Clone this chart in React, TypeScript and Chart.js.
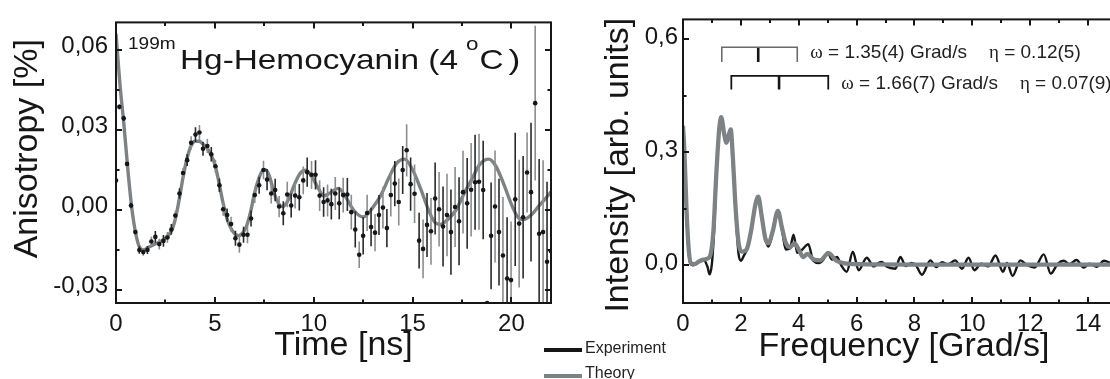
import React, { useEffect, useRef } from "react";
import { Chart, registerables } from "chart.js";

Chart.register(...registerables);

const FONT = '"Liberation Sans", Arial, Helvetica, sans-serif';
const SERIF = '"Liberation Serif", "Times New Roman", serif';
const INK = "#161616";
const GRAY = "#7d8285";

// ---------- Left panel: anisotropy vs time ----------
const TIME_EXP = [0.0, 0.17, 0.39, 0.56, 0.76, 0.98, 1.18, 1.38, 1.59, 1.79, 1.99, 2.19, 2.4, 2.6, 2.8, 3.0, 3.21, 3.39, 3.6, 3.8, 4.02, 4.22, 4.4, 4.62, 4.82, 5.03, 5.23, 5.42, 5.62, 5.82, 6.04, 6.24, 6.45, 6.65, 6.83, 7.02, 7.24, 7.46, 7.64, 7.85, 8.05, 8.25, 8.46, 8.66, 8.86, 9.06, 9.27, 9.47, 9.67, 9.89, 10.09, 10.3, 10.5, 10.7, 10.89, 11.09, 11.29, 11.49, 11.7, 11.9, 12.1, 12.3, 12.5, 12.7, 12.9, 13.1, 13.3, 13.5, 13.7, 13.9, 14.1, 14.3, 14.5, 14.7, 14.9, 15.1, 15.33, 15.53, 15.73, 15.93, 16.14, 16.34, 16.54, 16.74, 16.94, 17.15, 17.35, 17.55, 17.76, 17.96, 18.16, 18.36, 18.57, 18.77, 18.97, 19.17, 19.37, 19.57, 19.78, 19.98, 20.19, 20.39, 20.59, 20.79, 20.99, 21.2, 21.4, 21.6, 21.8, 22.0];
const ANIS_EXP = [0.0110, 0.0386, 0.0343, 0.0172, 0.0016, -0.0084, -0.0151, -0.0159, -0.0151, -0.0119, -0.0102, -0.0129, -0.0117, -0.0104, -0.0074, -0.0022, 0.0061, 0.0138, 0.0186, 0.0251, 0.0282, 0.0290, 0.0229, 0.0239, 0.0208, 0.0163, 0.0092, 0.0002, -0.0020, -0.0054, -0.0107, -0.0131, -0.0094, -0.0094, -0.0033, 0.0055, 0.0092, 0.0149, 0.0113, 0.0061, 0.0074, 0.0012, -0.0013, 0.0057, 0.0016, 0.0053, 0.0047, 0.0110, 0.0141, 0.0131, 0.0131, 0.0053, 0.0029, 0.0035, 0.0021, 0.0061, 0.0024, 0.0055, 0.0057, -0.0009, -0.0074, -0.0169, -0.0098, -0.0012, -0.0065, -0.0086, -0.0020, 0.0008, -0.0069, 0.0055, 0.0098, 0.0029, 0.0149, 0.0223, 0.0096, 0.0060, -0.0116, -0.0147, -0.0057, -0.0081, 0.0042, 0.0002, -0.0063, -0.0020, -0.0084, 0.0010, -0.0043, 0.0066, 0.0024, 0.0075, 0.0103, 0.0105, 0.0074, -0.0350, -0.0098, 0.0012, -0.0084, -0.0172, -0.0258, -0.0264, 0.0039, -0.0052, -0.0028, 0.0140, 0.0066, 0.0400, -0.0090, -0.0084, -0.0195, -0.0156];
const ANIS_ERR = [0.0008, 0.0010, 0.0010, 0.0010, 0.0010, 0.0012, 0.0014, 0.0014, 0.0015, 0.0018, 0.0022, 0.0020, 0.0022, 0.0020, 0.0020, 0.0018, 0.0020, 0.0020, 0.0022, 0.0025, 0.0028, 0.0028, 0.0026, 0.0026, 0.0027, 0.0025, 0.0025, 0.0025, 0.0025, 0.0028, 0.0028, 0.0030, 0.0030, 0.0032, 0.0030, 0.0030, 0.0032, 0.0035, 0.0040, 0.0038, 0.0042, 0.0040, 0.0045, 0.0048, 0.0045, 0.0048, 0.0050, 0.0052, 0.0055, 0.0052, 0.0055, 0.0058, 0.0055, 0.0060, 0.0058, 0.0062, 0.0060, 0.0065, 0.0062, 0.0065, 0.0068, 0.0050, 0.0070, 0.0068, 0.0072, 0.0070, 0.0075, 0.0078, 0.0072, 0.0080, 0.0085, 0.0088, 0.0090, 0.0098, 0.0100, 0.0110, 0.0105, 0.0110, 0.0120, 0.0125, 0.0135, 0.0140, 0.0150, 0.0155, 0.0160, 0.0150, 0.0165, 0.0155, 0.0170, 0.0175, 0.0178, 0.0180, 0.0185, 0.0, 0.0200, 0.0210, 0.0200, 0.0220, 0.0230, 0.0220, 0.0250, 0.0240, 0.0230, 0.0150, 0.0260, 0.0290, 0.0280, 0.0270, 0.0300, 0.0300];
const TIME_TH = [0, 0.2, 0.4, 0.6, 0.8, 1.0, 1.2, 1.4, 1.6, 2.0, 2.4, 2.8, 3.0, 3.2, 3.4, 3.6, 3.8, 4.0, 4.2, 4.4, 4.6, 4.8, 5.0, 5.2, 5.4, 5.6, 5.8, 6.0, 6.2, 6.4, 6.6, 6.8, 7.0, 7.2, 7.4, 7.55, 7.75, 8.0, 8.2, 8.4, 8.6, 8.8, 9.0, 9.3, 9.6, 9.9, 10.2, 10.5, 10.8, 11.25, 11.6, 12.0, 12.5, 13.0, 13.4, 13.8, 14.2, 14.6, 15.0, 15.4, 15.8, 16.1, 16.4, 16.8, 17.2, 17.6, 18.0, 18.4, 18.85, 19.2, 19.6, 20.0, 20.3, 20.6, 21.0, 21.4, 21.7, 22.0];
const ANIS_TH = [0.0660, 0.0470, 0.0320, 0.0150, 0.0005, -0.0090, -0.0142, -0.0150, -0.0143, -0.0128, -0.0112, -0.0080, -0.0035, 0.0040, 0.0125, 0.0195, 0.0240, 0.0257, 0.0257, 0.0246, 0.0232, 0.0207, 0.0170, 0.0105, 0.0030, -0.0030, -0.0068, -0.0090, -0.0097, -0.0088, -0.0062, -0.0010, 0.0060, 0.0112, 0.0145, 0.0150, 0.0128, 0.0062, 0.0027, 0.0012, 0.0022, 0.0052, 0.0090, 0.0135, 0.0148, 0.0125, 0.0085, 0.0052, 0.0062, 0.0080, 0.0050, 0.0000, -0.0027, 0.0010, 0.0055, 0.0120, 0.0175, 0.0190, 0.0150, 0.0080, 0.0000, -0.0045, -0.0055, -0.0035, 0.0000, 0.0060, 0.0115, 0.0170, 0.0190, 0.0165, 0.0098, 0.0020, -0.0025, -0.0037, -0.0020, 0.0015, 0.0040, 0.0067];
const TIME_TICKS = [0, 5, 10, 15, 20];
const TIME_MINOR = [2.5, 7.5, 12.5, 17.5];
const ANIS_TICKS = [-0.03, 0, 0.03, 0.06];
const ANIS_TICK_LABELS = ["-0,03", "0,00", "0,03", "0,06"];
const ANIS_MINOR = [-0.015, 0.015, 0.045];

// ---------- Right panel: intensity vs frequency ----------
const FREQ_EXP = [0, 0.05, 0.1, 0.17, 0.24, 0.35, 0.5, 0.65, 0.75, 0.85, 0.92, 1.0, 1.08, 1.18, 1.3, 1.38, 1.45, 1.52, 1.6, 1.65, 1.72, 1.82, 1.92, 2.0, 2.1, 2.2, 2.35, 2.5, 2.6, 2.72, 2.85, 2.95, 3.05, 3.2, 3.3, 3.45, 3.55, 3.7, 3.82, 3.95, 4.1, 4.33, 4.5, 4.7, 4.85, 5.0, 5.15, 5.32, 5.47, 5.66, 5.87, 6.07, 6.35, 6.59, 6.75, 6.87, 7.05, 7.34, 7.51, 7.7, 7.9, 8.05, 8.26, 8.55, 8.75, 8.95, 9.15, 9.41, 9.64, 9.87, 10.07, 10.3, 10.55, 10.8, 11.06, 11.2, 11.39, 11.66, 11.9, 12.15, 12.47, 12.71, 12.95, 13.16, 13.35, 13.6, 13.85, 14.05, 14.3, 14.55, 14.8, 15.0];
const INT_EXP = [0.37, 0.30, 0.18, 0.06, 0.008, 0.0, 0.006, 0.015, 0.012, -0.005, -0.024, 0.005, 0.10, 0.28, 0.39, 0.37, 0.33, 0.33, 0.355, 0.36, 0.28, 0.14, 0.03, 0.012, 0.025, 0.04, 0.09, 0.16, 0.18, 0.13, 0.07, 0.05, 0.07, 0.13, 0.14, 0.08, 0.042, 0.045, 0.081, 0.033, 0.040, 0.056, 0.012, 0.006, 0.015, 0.034, 0.015, 0.022, 0.0, -0.017, 0.036, -0.013, 0.020, -0.003, 0.006, 0.009, -0.004, -0.009, 0.022, -0.002, 0.006, 0.0, -0.025, 0.013, -0.005, 0.008, 0.002, 0.013, -0.009, 0.020, -0.013, 0.004, -0.003, 0.026, -0.017, 0.006, -0.028, 0.013, 0.0, -0.006, 0.029, -0.022, 0.004, 0.012, 0.003, 0.014, -0.006, 0.004, -0.004, 0.012, 0.005, 0.0];
const FREQ_TH = [0, 0.05, 0.12, 0.2, 0.28, 0.4, 0.55, 0.7, 0.85, 0.95, 1.05, 1.15, 1.25, 1.32, 1.42, 1.5, 1.58, 1.65, 1.72, 1.82, 1.92, 2.05, 2.2, 2.35, 2.5, 2.6, 2.72, 2.85, 2.95, 3.1, 3.28, 3.42, 3.55, 3.7, 3.85, 4.0, 4.15, 4.3, 4.5, 4.74, 5.03, 5.3, 5.6, 6.0, 8.0, 10.0, 12.0, 15.0];
const INT_TH = [0.37, 0.30, 0.15, 0.04, 0.005, 0.003, 0.010, 0.015, 0.018, 0.028, 0.09, 0.24, 0.36, 0.393, 0.35, 0.325, 0.345, 0.36, 0.29, 0.15, 0.06, 0.036, 0.042, 0.09, 0.16, 0.182, 0.13, 0.07, 0.058, 0.09, 0.144, 0.10, 0.06, 0.048, 0.058, 0.042, 0.022, 0.030, 0.016, 0.013, 0.032, 0.012, 0.005, 0.003, 0.002, 0.002, 0.002, 0.002];
const FREQ_TICKS = [0, 2, 4, 6, 8, 10, 12, 14];
const FREQ_MINOR = [1, 3, 5, 7, 9, 11, 13];
const INT_TICKS = [0, 0.3, 0.6];
const INT_TICK_LABELS = ["0,0", "0,3", "0,6"];
const INT_MINOR = [0.15, 0.45];

// frequency triplets (omega_1, omega_2, omega_3) of the two fitted sites
const TRIPLET_A = [1.34, 2.6, 3.95];
const TRIPLET_B = [1.67, 3.32, 5.02];
const TRIPLET_A_LEVEL = [0.539, 0.578]; // foot, top
const TRIPLET_B_LEVEL = [0.466, 0.502];
const OMEGA_TEXT = ["1.35(4)", "1.66(7)"];
const ETA_TEXT = ["0.12(5)", "0.07(9)"];
const TEXT_BASE = [0.550, 0.467];

const pts = (xs: number[], ys: number[]) => xs.map((x, i) => ({ x, y: ys[i] }));

function framePlugin(xMajor: number[], xMinor: number[], yMajor: number[], yMinor: number[]) {
  return {
    id: "frameTicks",
    afterDatasetsDraw(chart: any) {
      const { ctx, chartArea: a, scales } = chart;
      const xs = scales.x;
      const ys = scales.y;
      ctx.save();
      ctx.strokeStyle = INK;
      ctx.lineWidth = 2;
      ctx.strokeRect(a.left, a.top, a.right - a.left, a.bottom - a.top);
      const xt = (vals: number[], len: number) => {
        for (const v of vals) {
          const p = Math.round(xs.getPixelForValue(v));
          ctx.beginPath();
          ctx.moveTo(p, a.bottom);
          ctx.lineTo(p, a.bottom - len);
          ctx.moveTo(p, a.top);
          ctx.lineTo(p, a.top + len);
          ctx.stroke();
        }
      };
      const yt = (vals: number[], len: number) => {
        for (const v of vals) {
          const p = Math.round(ys.getPixelForValue(v));
          ctx.beginPath();
          ctx.moveTo(a.left, p);
          ctx.lineTo(a.left + len, p);
          ctx.moveTo(a.right, p);
          ctx.lineTo(a.right - len, p);
          ctx.stroke();
        }
      };
      xt(xMajor, 6);
      xt(xMinor, 3.5);
      yt(yMajor, 6);
      yt(yMinor, 3.5);
      ctx.restore();
    },
  };
}

const errorBarPlugin = {
  id: "errorBars",
  afterDatasetDraw(chart: any, args: any) {
    if (args.index !== 1) return;
    const { ctx, chartArea: a, scales } = chart;
    ctx.save();
    ctx.beginPath();
    ctx.rect(a.left, a.top, a.right - a.left, a.bottom - a.top);
    ctx.clip();
    ctx.lineWidth = 1.6;
    TIME_EXP.forEach((t, i) => {
      const e = ANIS_ERR[i];
      if (!e) return;
      const x = scales.x.getPixelForValue(t);
      const y1 = scales.y.getPixelForValue(ANIS_EXP[i] - e);
      const y2 = scales.y.getPixelForValue(ANIS_EXP[i] + e);
      ctx.strokeStyle = i % 2 === 0 ? "#2a2a2a" : "#8a8d90";
      ctx.beginPath();
      ctx.moveTo(x, y1);
      ctx.lineTo(x, y2);
      ctx.stroke();
    });
    ctx.restore();
  },
};

function stretchedText(ctx: any, text: string, x: number, y: number, size: number, sx: number) {
  ctx.save();
  ctx.font = `${size}px ${FONT}`;
  const w = ctx.measureText(text).width * sx;
  ctx.translate(x, y);
  ctx.scale(sx, 1);
  ctx.textAlign = "left";
  ctx.textBaseline = "alphabetic";
  ctx.fillText(text, 0, 0);
  ctx.restore();
  return w;
}

const leftTextPlugin = {
  id: "leftText",
  afterDraw(chart: any) {
    const { ctx, chartArea: a } = chart;
    ctx.save();
    ctx.fillStyle = INK;
    ctx.font = `34px ${FONT}`;
    ctx.textAlign = "center";
    ctx.textBaseline = "alphabetic";
    ctx.fillText("Time [ns]", (a.left + a.right) / 2 + 10, a.bottom + 52);
    ctx.save();
    ctx.translate(a.left - 79, (a.top + a.bottom) / 2 - 14);
    ctx.rotate(-Math.PI / 2);
    ctx.fillText("Anisotropy [%]", 0, 0);
    ctx.restore();
    stretchedText(ctx, "199m", a.left + 12, a.top + 27, 17, 1.12);
    let x = a.left + 64;
    x += stretchedText(ctx, "Hg-Hemocyanin (4", x, a.top + 47, 28.5, 1.17);
    x += 8;
    x += stretchedText(ctx, "o", x, a.top + 28, 19, 1.18) + 1;
    x += stretchedText(ctx, "C", x, a.top + 47, 28.5, 1.17) + 5;
    stretchedText(ctx, ")", x, a.top + 47, 28.5, 1.25);
    ctx.restore();
  },
};

const rightTextPlugin = {
  id: "rightText",
  afterDraw(chart: any) {
    const { ctx, chartArea: a, scales } = chart;
    ctx.save();
    ctx.fillStyle = INK;
    ctx.font = `34px ${FONT}`;
    ctx.textAlign = "center";
    ctx.textBaseline = "alphabetic";
    ctx.fillText("Frequency [Grad/s]", (a.left + a.right) / 2 + 4, a.bottom + 53);
    ctx.save();
    ctx.translate(a.left - 55.5, (a.top + a.bottom) / 2 + 4);
    ctx.rotate(-Math.PI / 2);
    ctx.fillText("Intensity [arb. units]", 0, 0);
    ctx.restore();
    ctx.textAlign = "left";
    ctx.fillStyle = "#222";
    const trips = [TRIPLET_A, TRIPLET_B];
    for (let k = 0; k < 2; k++) {
      let x = scales.x.getPixelForValue(trips[k][2]) + 13;
      const y = scales.y.getPixelForValue(TEXT_BASE[k]);
      ctx.font = `19px ${SERIF}`;
      ctx.fillText("\u03c9", x, y);
      x += ctx.measureText("\u03c9").width;
      ctx.font = `19px ${FONT}`;
      const s1 = ` = ${OMEGA_TEXT[k]} Grad/s`;
      ctx.fillText(s1, x, y);
      x += ctx.measureText(s1).width + 22;
      ctx.font = `19px ${SERIF}`;
      ctx.fillText("\u03b7", x, y);
      x += ctx.measureText("\u03b7").width;
      ctx.font = `19px ${FONT}`;
      ctx.fillText(` = ${ETA_TEXT[k]}`, x, y);
    }
    ctx.restore();
  },
};

function axisX(min: number, max: number, ticks: number[], size: number) {
  return {
    type: "linear",
    position: "bottom",
    min,
    max,
    afterBuildTicks: (s: any) => {
      s.ticks = ticks.map((v) => ({ value: v }));
    },
    afterFit: (s: any) => {
      s.height = 76;
    },
    grid: { display: false, drawTicks: false },
    border: { display: false },
    ticks: {
      color: INK,
      font: { family: FONT, size },
      padding: 7,
      maxRotation: 0,
      autoSkip: false,
      callback: (v: number) => String(v),
    },
  };
}

function axisY(min: number, max: number, ticks: number[], labels: string[], width: number, size: number, pad: number, shift: number) {
  return {
    type: "linear",
    min,
    max,
    afterBuildTicks: (s: any) => {
      s.ticks = ticks.map((v) => ({ value: v }));
    },
    afterFit: (s: any) => {
      s.width = width;
    },
    grid: { display: false, drawTicks: false },
    border: { display: false },
    ticks: {
      color: INK,
      font: { family: FONT, size },
      padding: pad,
      labelOffset: shift,
      autoSkip: false,
      callback: (v: number) => {
        const i = ticks.indexOf(v);
        return i >= 0 ? labels[i] : "";
      },
    },
  };
}

function leftConfig(): any {
  return {
    type: "line",
    data: {
      datasets: [
        {
          label: "Experiment",
          data: pts(TIME_EXP, ANIS_EXP),
          showLine: false,
          pointRadius: 2.3,
          pointBackgroundColor: INK,
          pointBorderWidth: 0,
        },
        {
          label: "Theory",
          data: pts(TIME_TH, ANIS_TH),
          borderColor: GRAY,
          borderWidth: 3.4,
          pointRadius: 0,
          cubicInterpolationMode: "monotone",
          fill: false,
        },
      ],
    },
    options: {
      responsive: false,
      animation: false,
      events: [],
      layout: { padding: { top: 16, right: 9, left: 0, bottom: 0 } },
      plugins: { legend: { display: false }, tooltip: { enabled: false } },
      scales: {
        x: axisX(0, 22, TIME_TICKS, 24),
        y: axisY(-0.035, 0.0703, ANIS_TICKS, ANIS_TICK_LABELS, 116, 24, 8, -3),
      },
    },
    plugins: [errorBarPlugin, framePlugin(TIME_TICKS, TIME_MINOR, ANIS_TICKS, ANIS_MINOR), leftTextPlugin],
  };
}

function bracket(f: number[], level: number[]) {
  return [
    { x: f[0], y: level[0] },
    { x: f[0], y: level[1] },
    { x: f[2], y: level[1] },
    { x: f[2], y: level[0] },
  ];
}

function rightConfig(): any {
  const seg = (data: any[], color: string, w: number) => ({
    data,
    borderColor: color,
    borderWidth: w,
    pointRadius: 0,
    tension: 0,
    fill: false,
  });
  return {
    type: "line",
    data: {
      datasets: [
        {
          label: "Theory",
          data: pts(FREQ_TH, INT_TH),
          borderColor: GRAY,
          borderWidth: 4.3,
          pointRadius: 0,
          cubicInterpolationMode: "monotone",
          fill: false,
        },
        {
          label: "Experiment",
          data: pts(FREQ_EXP, INT_EXP),
          borderColor: INK,
          borderWidth: 2.4,
          pointRadius: 0,
          cubicInterpolationMode: "monotone",
          fill: false,
        },
        seg(bracket(TRIPLET_A, TRIPLET_A_LEVEL), "#6a6a6a", 1.6),
        seg([{ x: TRIPLET_A[1], y: TRIPLET_A_LEVEL[0] }, { x: TRIPLET_A[1], y: TRIPLET_A_LEVEL[1] }], INK, 2.6),
        seg(bracket(TRIPLET_B, TRIPLET_B_LEVEL), INK, 1.8),
        seg([{ x: TRIPLET_B[1], y: TRIPLET_B_LEVEL[0] }, { x: TRIPLET_B[1], y: TRIPLET_B_LEVEL[1] }], INK, 2.6),
      ],
    },
    options: {
      responsive: false,
      animation: false,
      events: [],
      layout: { padding: { top: 16, right: 13, left: 0, bottom: 0 } },
      plugins: { legend: { display: false }, tooltip: { enabled: false } },
      scales: {
        x: axisX(0, 15, FREQ_TICKS, 24),
        y: axisY(-0.1, 0.652, INT_TICKS, INT_TICK_LABELS, 123, 24, 5, -2),
      },
    },
    plugins: [framePlugin(FREQ_TICKS, FREQ_MINOR, INT_TICKS, INT_MINOR), rightTextPlugin],
  };
}

export default function App() {
  const leftRef = useRef<HTMLCanvasElement>(null);
  const rightRef = useRef<HTMLCanvasElement>(null);

  useEffect(() => {
    const l = new Chart(leftRef.current as HTMLCanvasElement, leftConfig());
    const r = new Chart(rightRef.current as HTMLCanvasElement, rightConfig());
    return () => {
      l.destroy();
      r.destroy();
    };
  }, []);

  const legendText: React.CSSProperties = {
    position: "absolute",
    left: 585,
    font: `16px ${FONT}`,
    lineHeight: "20px",
    color: "#222",
    whiteSpace: "nowrap",
    zIndex: 2,
  };

  return (
    <div
      style={{
        position: "fixed",
        left: 0,
        top: 0,
        width: 1110,
        height: 379,
        overflow: "hidden",
        background: "#ffffff",
      }}
    >
      <canvas ref={leftRef} width={560} height={379} style={{ position: "absolute", left: 0, top: 0, width: 560, height: 379 }} />
      <canvas ref={rightRef} width={570} height={379} style={{ position: "absolute", left: 560, top: 0, width: 570, height: 379 }} />
      <div style={{ position: "absolute", left: 544, top: 348, width: 38, height: 4, background: INK, zIndex: 2 }} />
      <div style={{ position: "absolute", left: 544, top: 374, width: 38, height: 4, background: GRAY, zIndex: 2 }} />
      <div style={{ ...legendText, top: 338 }}>Experiment</div>
      <div style={{ ...legendText, top: 363 }}>Theory</div>
    </div>
  );
}
